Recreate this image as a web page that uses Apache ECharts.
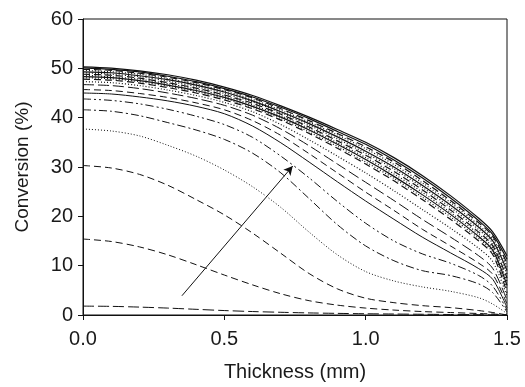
<!DOCTYPE html>
<html>
<head>
<meta charset="utf-8">
<script src="https://cdn.jsdelivr.net/npm/echarts@6/dist/echarts.min.js"></script>
<style>
    html, body {margin: 0; padding: 0; background: #fff;}
    #main {width: 525px; height: 387px;}
</style>
</head>
<body>
<div id="main"></div>
<script>
    // thickness positions (mm)
    let xs = [0, 0.1, 0.2, 0.3, 0.4, 0.5, 0.6, 0.7, 0.8, 0.9, 1.0, 1.1, 1.2, 1.3, 1.4, 1.45, 1.5];
    let xTicks = [0, 0.5, 1.0, 1.5];
    let yTicks = [0, 10, 20, 30, 40, 50, 60];

    // conversion (%) curves, bottom to top
    let curveA = [1.8, 1.75, 1.6, 1.4, 1.15, 0.9, 0.7, 0.55, 0.42, 0.33, 0.25, 0.2, 0.15, 0.1, 0.06, 0.03, 0];
    let curveB = [15.4, 14.9, 13.8, 12.2, 10.2, 8.1, 6.1, 4.3, 2.9, 2.0, 1.4, 1.0, 0.7, 0.5, 0.3, 0.2, 0];
    let curveC = [30.3, 29.8, 28.5, 26.3, 23.4, 20.3, 16.6, 12.5, 8.4, 5.3, 3.4, 2.5, 1.9, 1.5, 0.9, 0.5, 0];
    let curveD = [37.7, 37.3, 36.3, 34.4, 32.2, 29.4, 26.0, 21.8, 16.8, 12.2, 8.8, 6.9, 5.7, 4.8, 3.5, 2.2, 0.3];
    let curveE = [41.6, 41.3, 40.4, 39.0, 37.5, 35.6, 32.8, 28.8, 23.6, 18.3, 14.0, 11.0, 9.0, 8.0, 6.3, 4.5, 0.6];
    let curveF = [43.8, 43.5, 42.8, 41.7, 40.3, 38.6, 36.0, 32.2, 27.8, 23.0, 18.6, 15.0, 12.4, 10.5, 8.0, 5.8, 1.0];
    let curveG = [45.0, 44.8, 44.2, 43.4, 42.3, 40.8, 38.3, 34.9, 31.0, 27.0, 23.1, 19.4, 15.8, 12.6, 9.4, 7.2, 1.5];
    let curveH = [45.7, 45.5, 44.9, 44.1, 43.0, 41.6, 39.4, 36.4, 32.7, 28.8, 24.9, 21.2, 17.4, 14.0, 10.5, 8.2, 2.2];
    let curveI = [46.7, 46.5, 45.9, 45.0, 43.9, 42.5, 40.5, 37.7, 34.3, 30.6, 26.9, 23.2, 19.4, 15.8, 12.0, 9.4, 3.0];
    let curveJ = [47.3, 47.1, 46.5, 45.6, 44.5, 43.1, 41.2, 38.6, 35.5, 32.2, 28.8, 25.2, 21.4, 17.6, 13.5, 10.8, 3.8];
    let curveK = [47.8, 47.6, 47.0, 46.1, 45.0, 43.6, 41.8, 39.5, 36.8, 33.8, 30.6, 27.2, 23.4, 19.4, 15.0, 12.2, 4.5];
    let curveL1 = [48.1, 47.9, 47.3, 46.4, 45.3, 43.9, 42.1, 39.8, 37.1, 34.2, 31.0, 27.7, 23.9, 19.9, 15.5, 12.7, 5.3];
    let curveL2 = [48.3, 48.1, 47.5, 46.6, 45.5, 44.1, 42.3, 40.1, 37.5, 34.6, 31.5, 28.1, 24.4, 20.4, 15.9, 13.1, 6.0];
    let curveL3 = [48.6, 48.3, 47.8, 46.9, 45.8, 44.4, 42.6, 40.4, 37.8, 34.9, 31.9, 28.6, 24.9, 20.8, 16.4, 13.6, 6.8];
    let curveL4 = [48.8, 48.6, 48.0, 47.1, 46.0, 44.6, 42.9, 40.7, 38.1, 35.3, 32.4, 29.1, 25.4, 21.3, 16.8, 14.0, 7.5];
    let curveL5 = [49.1, 48.8, 48.3, 47.4, 46.3, 44.9, 43.2, 41.0, 38.5, 35.7, 32.8, 29.6, 25.9, 21.8, 17.3, 14.5, 8.3];
    let curveL6 = [49.3, 49.1, 48.5, 47.7, 46.6, 45.2, 43.4, 41.2, 38.8, 36.1, 33.2, 30.0, 26.3, 22.3, 17.8, 15.0, 9.0];
    let curveL7 = [49.6, 49.3, 48.8, 47.9, 46.8, 45.4, 43.7, 41.5, 39.1, 36.5, 33.7, 30.5, 26.8, 22.8, 18.2, 15.4, 9.8];
    let curveL8 = [49.8, 49.6, 49.0, 48.2, 47.1, 45.7, 44.0, 41.8, 39.4, 36.8, 34.1, 31.0, 27.3, 23.2, 18.7, 15.9, 10.5];
    let curveL9 = [50.1, 49.8, 49.3, 48.4, 47.3, 45.9, 44.2, 42.1, 39.8, 37.2, 34.6, 31.4, 27.8, 23.7, 19.1, 16.3, 11.3];
    let curveT = [50.3, 50.05, 49.5, 48.7, 47.6, 46.2, 44.5, 42.4, 40.1, 37.6, 35.0, 31.9, 28.3, 24.2, 19.6, 16.8, 12.0];

    // arrow annotation (increasing time)
    let arrowFrom = [0.35, 3.9];
    let arrowTo = [0.742, 30.2];

    let dash = [7, 4];
    let longDash = [11, 4];
    let dot = [1, 2];
    let dashDot = [8, 3, 2, 3];
    let dashDotDot = [8, 3, 2, 3, 2, 3];

    // [values, dash style, line width]
    let curves = [
        [curveA, longDash, 1], [curveB, dash, 1], [curveC, dash, 1], [curveD, dot, 1],
        [curveE, dashDot, 1], [curveF, dashDotDot, 1], [curveG, 'solid', 1], [curveH, dash, 1],
        [curveI, longDash, 1], [curveJ, dot, 1.2], [curveK, dash, 1.2], [curveL1, dot, 1.2],
        [curveL2, 'solid', 1.2], [curveL3, dot, 1.2], [curveL4, dash, 1.2], [curveL5, dot, 1.2],
        [curveL6, 'solid', 1.2], [curveL7, dot, 1.2], [curveL8, dash, 1.2], [curveL9, 'solid', 1.2],
        [curveT, 'solid', 1.2]
    ];

    let series = curves.map(function (c) {
        return {
            type: 'line',
            data: xs.map(function (x, i) { return [x, c[0][i]]; }),
            showSymbol: false,
            smooth: 0.3,
            lineStyle: {color: '#111', width: c[2], type: c[1]},
            silent: true
        };
    });

    series.push({
        type: 'line',
        data: [],
        markLine: {
            silent: true,
            symbol: ['none', 'arrow'],
            symbolSize: [7, 9],
            label: {show: false},
            lineStyle: {color: '#111', width: 1, type: 'solid'},
            data: [[{coord: arrowFrom}, {coord: arrowTo}]]
        }
    });

    let myChart = echarts.init(document.getElementById('main'));
    let font = 'Liberation Sans, Arial, sans-serif';
    let option = {
        animation: false,
        grid: {
            left: 83, right: 18, top: 19, bottom: 71,
            show: true, borderColor: '#111', borderWidth: 1
        },
        xAxis: {
            type: 'value',
            min: xTicks[0],
            max: xTicks[xTicks.length - 1],
            interval: 0.5,
            name: 'Thickness (mm)',
            nameLocation: 'middle',
            nameGap: 47,
            nameTextStyle: {fontSize: 20, color: '#1a1a1a', fontFamily: font},
            axisLine: {lineStyle: {color: '#111', width: 1}},
            axisTick: {inside: false, length: 5, lineStyle: {color: '#111'}},
            axisLabel: {
                fontSize: 20, color: '#1a1a1a', fontFamily: font, margin: 14,
                formatter: function (v) { return v.toFixed(1); }
            },
            splitLine: {show: false}
        },
        yAxis: {
            type: 'value',
            min: yTicks[0],
            max: yTicks[yTicks.length - 1],
            interval: 10,
            name: 'Conversion (%)',
            nameLocation: 'middle',
            nameGap: 51,
            nameTextStyle: {fontSize: 19, color: '#1a1a1a', fontFamily: font},
            axisLine: {show: true, lineStyle: {color: '#111', width: 1}},
            axisTick: {show: true, inside: false, length: 5, lineStyle: {color: '#111'}},
            axisLabel: {fontSize: 20, color: '#1a1a1a', fontFamily: font, margin: 10},
            splitLine: {show: false}
        },
        series: series
    };
    myChart.setOption(option);
</script>
</body>
</html>
